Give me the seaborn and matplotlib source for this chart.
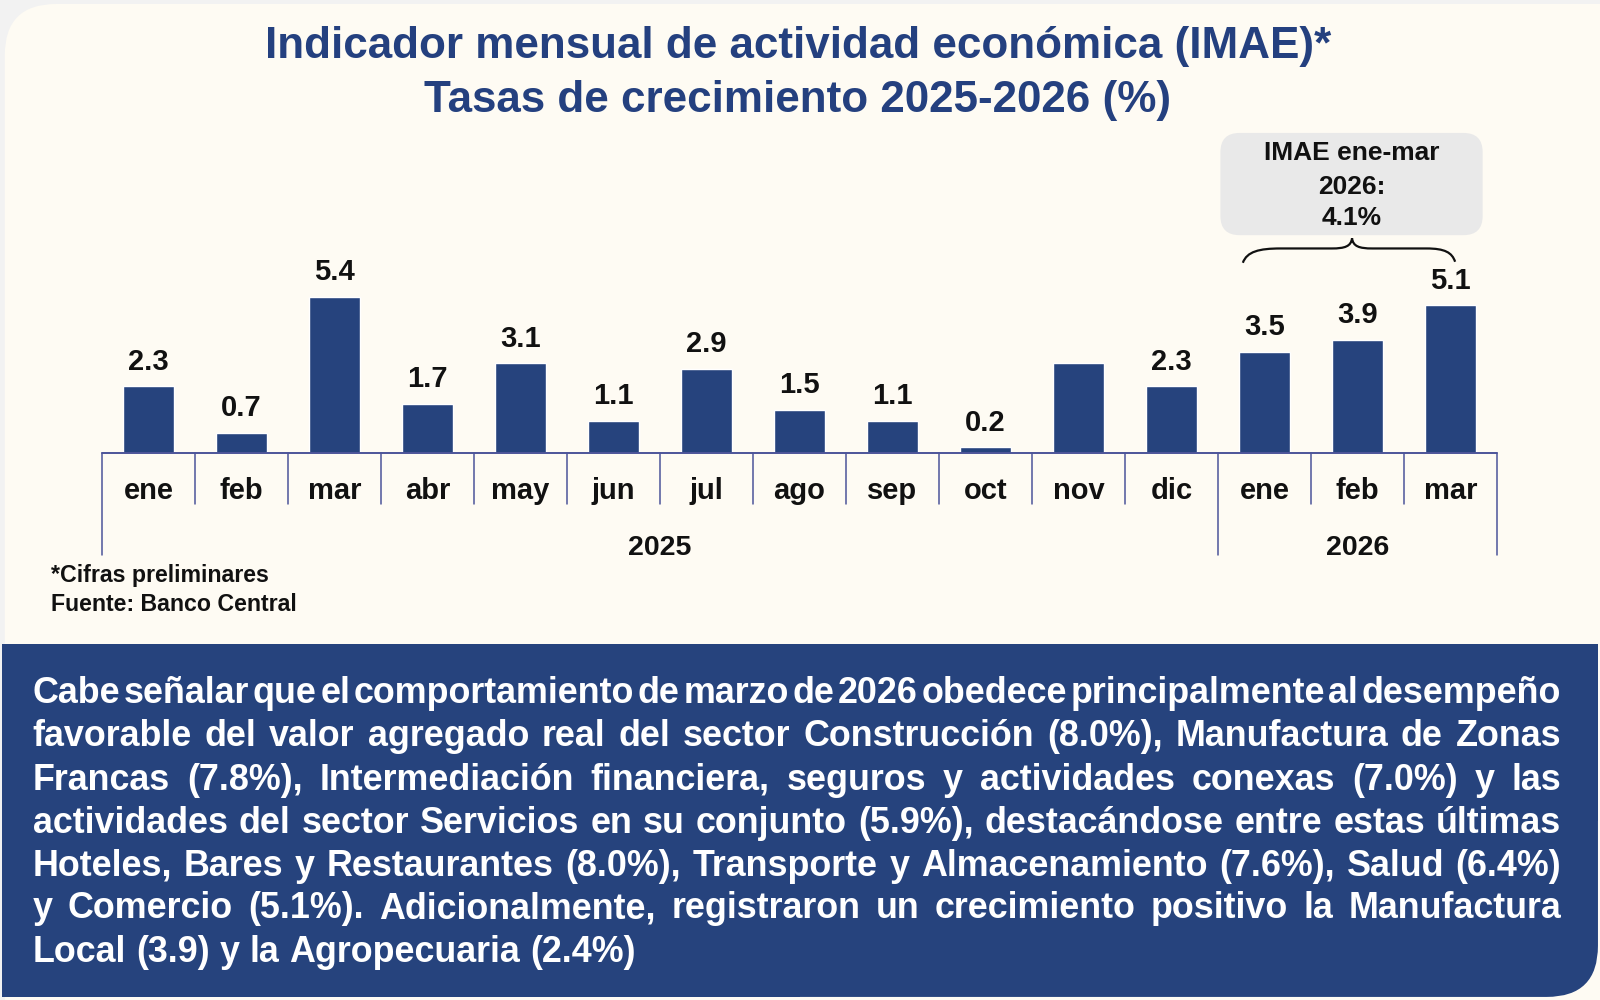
import numpy as np
import pandas as pd
import seaborn as sns
import matplotlib.pyplot as plt
from matplotlib.patches import FancyBboxPatch, Rectangle, PathPatch
from matplotlib.path import Path

# ---------------------------------------------------------------- datos
meses = ["ene", "feb", "mar", "abr", "may", "jun", "jul", "ago", "sep", "oct", "nov", "dic",
         "ene", "feb", "mar"]
anios = ["2025"] * 12 + ["2026"] * 3
valores = [2.3, 0.7, 5.4, 1.7, 3.1, 1.1, 2.9, 1.5, 1.1, 0.2, 3.1, 2.3, 3.5, 3.9, 5.1]
etiquetas = ["2.3", "0.7", "5.4", "1.7", "3.1", "1.1", "2.9", "1.5", "1.1", "0.2", "",
             "2.3", "3.5", "3.9", "5.1"]

titulo = ["Indicador mensual de actividad económica (IMAE)*",
          "Tasas de crecimiento 2025-2026 (%)"]
recuadro = ["IMAE ene-mar", "2026:", "4.1%"]
notas = ["*Cifras preliminares", "Fuente: Banco Central"]
parrafo = [
    "Cabe señalar que el comportamiento de marzo de 2026 obedece principalmente al desempeño",
    "favorable del valor agregado real del sector Construcción (8.0%), Manufactura de Zonas",
    "Francas (7.8%), Intermediación financiera, seguros y actividades conexas (7.0%) y las",
    "actividades del sector Servicios en su conjunto (5.9%), destacándose entre estas últimas",
    "Hoteles, Bares y Restaurantes (8.0%), Transporte y Almacenamiento (7.6%), Salud (6.4%)",
    "y Comercio (5.1%). Adicionalmente, registraron un crecimiento positivo la Manufactura",
    "Local (3.9) y la Agropecuaria (2.4%)",
]

claves = [f"{m}-{a}" for m, a in zip(meses, anios)]
df = pd.DataFrame({"clave": claves, "valor": valores})

AZUL = "#26437D"
TITULO = "#24407F"
CREMA = "#FEFBF3"
LINEA = "#4C5499"

# coordenadas de referencia (lienzo 1568 x 978)
W, H = 1568.0, 978.0
def X(x): return x / W
def Y(y): return 1 - y / H

PXU = 28.3  # px por unidad

sns.set_theme(style="white")
plt.rcParams["font.family"] = ["Liberation Sans", "DejaVu Sans"]
plt.rcParams["font.weight"] = "bold"

fig = plt.figure(figsize=(16, 10), dpi=100)
fig.patch.set_facecolor("#F2F2F2")

# fondo crema con esquina superior izquierda redondeada
asp = 1.6
top = 0.996
fig.patches.append(FancyBboxPatch((0.003, 0), 0.997, top,
                                  boxstyle="round,pad=0,rounding_size=0.032",
                                  mutation_aspect=asp, transform=fig.transFigure,
                                  fc=CREMA, ec="none", zorder=-3))
fig.patches.append(Rectangle((0.5, 0), 0.5, top, transform=fig.transFigure, fc=CREMA, ec="none", zorder=-3))
fig.patches.append(Rectangle((0.003, 0), 0.997, 0.5, transform=fig.transFigure, fc=CREMA, ec="none", zorder=-3))

# recuadro azul inferior (esquina inferior derecha redondeada)
bx0, by0, bx1, by1 = X(2), Y(975), X(1566), Y(630)
fig.patches.append(FancyBboxPatch((bx0, by0), bx1 - bx0, by1 - by0,
                                  boxstyle="round,pad=0,rounding_size=0.032",
                                  mutation_aspect=asp, transform=fig.transFigure,
                                  fc=AZUL, ec="none", zorder=-2))
fig.patches.append(Rectangle((bx0, by0), (bx1 - bx0) / 2, by1 - by0, transform=fig.transFigure,
                             fc=AZUL, ec="none", zorder=-2))
fig.patches.append(Rectangle((bx0, (by0 + by1) / 2), bx1 - bx0, (by1 - by0) / 2,
                             transform=fig.transFigure, fc=AZUL, ec="none", zorder=-2))

# ---------------------------------------------------------------- barras
ax = fig.add_axes([X(100), Y(443), X(1467) - X(100), Y(130) - Y(443)])
ax.set_zorder(5)
ax.set_facecolor("none")
sns.barplot(data=df, x="clave", y="valor", order=claves, color=AZUL, saturation=1,
            width=0.54, ax=ax)
ax.set_xlim(-0.5, len(claves) - 0.5)
ax.set_ylim(0, (443 - 130) / PXU)
for s in ax.spines.values():
    s.set_visible(False)
ax.set_xticks([])
ax.set_yticks([])
ax.set_xlabel("")
ax.set_ylabel("")

for i, (v, t) in enumerate(zip(valores, etiquetas)):
    if t:
        ax.annotate(t, (i, v), xytext=(0, 12), textcoords="offset points", ha="center",
                    va="baseline", fontsize=21, fontweight="bold", color="#111111")

ax.axhline(0, color=LINEA, lw=1.4, clip_on=False)
y_mes = -(493 - 443) / PXU
y_anio = -(543 - 443) / PXU
for i in range(len(claves) - 1):
    if anios[i] == anios[i + 1]:
        ax.plot([i + 0.5, i + 0.5], [0, y_mes], color=LINEA, lw=1.1, clip_on=False)
cortes = [-0.5] + [i + 0.5 for i in range(len(claves) - 1) if anios[i] != anios[i + 1]] + [len(claves) - 0.5]
for c in cortes:
    ax.plot([c, c], [0, y_anio], color=LINEA, lw=1.1, clip_on=False)

for i, m in enumerate(meses):
    ax.text(i, -(480 - 443) / PXU, m, ha="center", va="center", fontsize=21,
            fontweight="bold", color="#111111", clip_on=False)
for a0, a1, a in zip(cortes[:-1], cortes[1:], ["2025", "2026"]):
    ax.text((a0 + a1) / 2, -(536 - 443) / PXU, a, ha="center", va="center", fontsize=20.5,
            fontweight="bold", color="#111111", clip_on=False)

# ---------------------------------------------------------------- títulos y notas
fig.text(X(782), Y(45), titulo[0], ha="center", va="center", fontsize=31.7,
         fontweight="bold", color=TITULO)
fig.text(X(782), Y(98), titulo[1], ha="center", va="center", fontsize=31.7,
         fontweight="bold", color=TITULO)

fig.text(X(50), Y(563), notas[0], ha="left", va="center", fontsize=16.7, fontweight="bold", color="#111111")
fig.text(X(50), Y(591), notas[1], ha="left", va="center", fontsize=16.7, fontweight="bold", color="#111111")

# recuadro gris y llave
fig.patches.append(FancyBboxPatch((X(1196), Y(230)), X(1453) - X(1196), Y(130) - Y(230),
                                  boxstyle="round,pad=0,rounding_size=0.012",
                                  mutation_aspect=asp, transform=fig.transFigure,
                                  fc="#E9E9E9", ec="none", zorder=2))
for k, (t, yy) in enumerate(zip(recuadro, [150, 183, 213])):
    fig.text(X(1325), Y(yy), t, ha="center", va="center", fontsize=19,
             fontweight="bold", color="#111111", zorder=3)

pts = [(1218, 257), (1222, 246), (1234, 243), (1255, 243),
       (1305, 243),
       (1318, 243), (1324, 241), (1325, 233),
       (1326, 241), (1332, 243), (1345, 243),
       (1398, 243),
       (1416, 243), (1423, 247), (1426, 256)]
codes = [Path.MOVETO, Path.CURVE4, Path.CURVE4, Path.CURVE4, Path.LINETO,
         Path.CURVE4, Path.CURVE4, Path.CURVE4, Path.CURVE4, Path.CURVE4, Path.CURVE4,
         Path.LINETO, Path.CURVE4, Path.CURVE4, Path.CURVE4]
llave = Path([(X(a), Y(b)) for a, b in pts], codes)
fig.patches.append(PathPatch(llave, transform=fig.transFigure, fill=False, ec="#111111",
                             lw=1.6, zorder=3))

# ---------------------------------------------------------------- párrafo justificado
renderer = fig.canvas.get_renderer()
x_izq, x_der = 32 * 1600 / W, 1530 * 1600 / W  # px de salida
lineas_y = [678, 720, 763, 805, 847, 889, 932]
for n, (linea, yy) in enumerate(zip(parrafo, lineas_y)):
    palabras = linea.split(" ")
    textos = [fig.text(0, Y(yy), p, ha="left", va="center", fontsize=25.8,
                       fontweight="bold", color="white", zorder=3) for p in palabras]
    anchos = [t.get_window_extent(renderer).width for t in textos]
    if n < len(parrafo) - 1:
        hueco = max((x_der - x_izq - sum(anchos)) / (len(palabras) - 1), 0)
    else:
        hueco = textos[0].get_fontsize() * 100 / 72 * 0.278
    x = x_izq
    for t, w in zip(textos, anchos):
        t.set_x(x / 1600)
        x += w + hueco

fig.savefig("out.png", dpi=100, facecolor=fig.get_facecolor())
